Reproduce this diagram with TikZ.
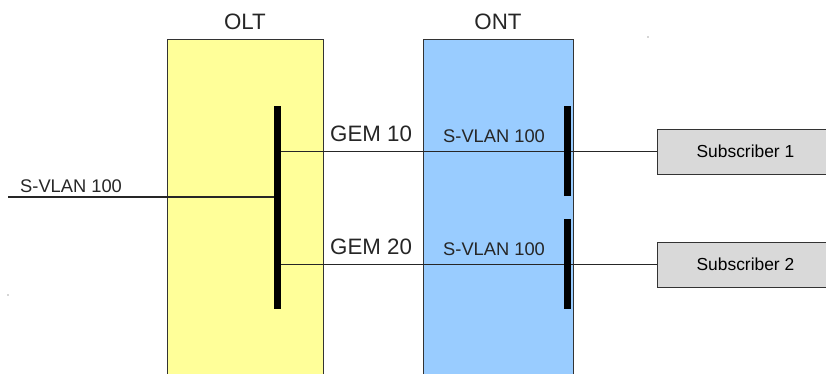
\documentclass[tikz,border=0pt]{standalone}
\usepackage{fontspec}
\setmainfont{Liberation Sans}
\usetikzlibrary{positioning}

\definecolor{oltyellow}{HTML}{FFFF99}
\definecolor{ontblue}{HTML}{99CCFF}
\definecolor{subgrey}{HTML}{D9D9D9}
\definecolor{linegrey}{HTML}{333333}

\tikzset{
    unitbox/.style={draw=linegrey, line width=0.9pt, minimum width=#1, minimum height=340, anchor=north, inner sep=0},
    switchbar/.style={fill=black, minimum width=7, minimum height=#1, inner sep=0},
    subbox/.style={draw=linegrey, line width=0.9pt, fill=subgrey, minimum width=172, minimum height=45, anchor=west, inner sep=0, font=\fontsize{17.4}{19}\selectfont},
    link/.style={draw=black!85, line width=1.8pt},
    biglabel/.style={inner sep=0, font=\fontsize{22.3}{24}\selectfont, text=black!85},
    vlanlabel/.style={inner sep=0, anchor=base west, font=\fontsize{18.3}{20}\selectfont, text=black!85}
}

\begin{document}
\begin{tikzpicture}[x=1pt, y=-1pt]
            \useasboundingbox (0, 0) rectangle (826, 374);
            \clip (0, 0) rectangle (826, 374);
            % OLT and ONT
            \node[unitbox=156, fill=oltyellow] (olt) at (245, 39) {};
            \node[unitbox=150, fill=ontblue] (ont) at (498, 39) {};
            \node[biglabel] (oltname) at (245, 22) {OLT};
            \node[biglabel] (ontname) at (498, 22) {ONT};
            % switches
            \node[switchbar=203, anchor=north] (oltbar) at (277.5, 106) {};
            \node[switchbar=90, anchor=north] (ontbar1) at (567.5, 106) {};
            \node[switchbar=90, anchor=north] (ontbar2) at (567.5, 219) {};
            % subscribers
            \node[subbox] (sub1) at (657, 151.5) {\hspace*{4pt}Subscriber 1};
            \node[subbox] (sub2) at (657, 264.5) {\hspace*{4pt}Subscriber 2};
            \coordinate (uplink) at (8, 197);
            % links
            \draw[link] (uplink) -- (oltbar.west |- uplink);
            \draw[link] (oltbar.east |- sub1.west) -- (sub1.west);
            \draw[link] (oltbar.east |- sub2.west) -- (sub2.west);
            \node[switchbar=90, anchor=north] at (ontbar1.north) {};
            \node[switchbar=90, anchor=north] at (ontbar2.north) {};
            % labels
            \node[vlanlabel] (vlanup) at (20, 192) {S-VLAN 100};
            \node[biglabel, anchor=base west] (gem1) at (330, 142) {GEM 10};
            \node[biglabel, anchor=base west] (gem2) at (330, 254) {GEM 20};
            \node[vlanlabel] (vlan1) at (443, 143) {S-VLAN 100};
            \node[vlanlabel] (vlan2) at (443, 255) {S-VLAN 100};
            \fill[black!70] (648, 37) circle (0.7);
            \fill[black!70] (8, 295) circle (0.7);
        \end{tikzpicture}
\end{document}
